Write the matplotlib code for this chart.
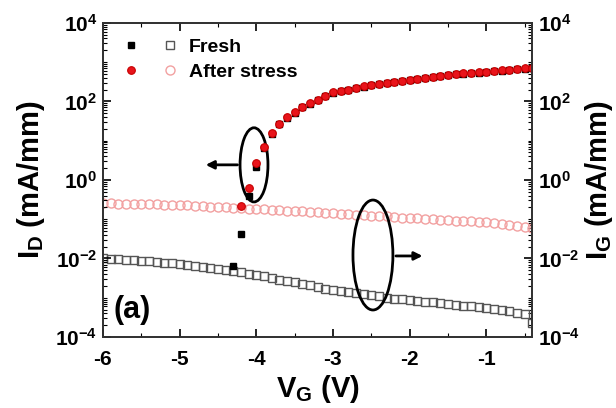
import numpy as np
import matplotlib
matplotlib.use("Agg")
import matplotlib.pyplot as plt
from matplotlib.patches import Ellipse
from matplotlib.legend_handler import HandlerTuple
from matplotlib.ticker import FuncFormatter, MultipleLocator, FixedLocator, NullFormatter

plt.rcParams['font.family'] = ['Liberation Sans', 'DejaVu Sans']
plt.rcParams['font.weight'] = 'bold'
plt.rcParams['mathtext.fontset'] = 'custom'
plt.rcParams['mathtext.rm'] = 'Liberation Sans:bold'
plt.rcParams['mathtext.bf'] = 'Liberation Sans:bold'
plt.rcParams['mathtext.it'] = 'Liberation Sans:bold'

# gate voltage sweeps (V)
vg_ig = np.linspace(-6.0, -0.4, 57)
vg_id_fresh = np.linspace(-4.3, -0.4, 40)
vg_id_stress = np.linspace(-4.2, -0.4, 39)

# drain current (mA/mm)
id_fresh = [0.0065, 0.042, 0.39, 2.1,
            6.5, 15, 26, 38, 52, 70, 88, 106, 135, 165,
            180, 195, 215, 235, 255, 270, 290, 310, 330, 350,
            370, 395, 420, 445, 470, 490, 510, 525, 540, 555,
            585, 610, 635, 660, 685, 705]
id_stress = [0.22, 0.63, 2.7,
             6.9, 16, 27, 40, 54, 72, 91, 110, 140, 170,
             185, 200, 220, 240, 260, 275, 295, 315, 335, 355,
             375, 400, 425, 450, 475, 495, 515, 530, 545, 560,
             590, 615, 640, 665, 690, 710]

# gate current (mA/mm)
ig_fresh = [0.0102, 0.0099, 0.0096, 0.0093, 0.0090, 0.0087, 0.0084, 0.0081, 0.0078, 0.0075,
            0.0072, 0.0068, 0.0064, 0.0060, 0.0056, 0.0053, 0.0050, 0.0047, 0.0044, 0.0041,
            0.0038, 0.0035, 0.0032, 0.0029, 0.0027, 0.0025, 0.0023, 0.0021, 0.0019, 0.0017,
            0.0016, 0.00150, 0.00140, 0.00131, 0.00123, 0.00116, 0.00108, 0.00101, 0.00095, 0.00091,
            0.00087, 0.00083, 0.00079, 0.00076, 0.00072, 0.00069, 0.00066, 0.00063, 0.00060, 0.00057,
            0.00055, 0.00051, 0.00048, 0.00045, 0.00042, 0.00038, 0.00023]
ig_stress = [0.257, 0.254, 0.251, 0.249, 0.246, 0.243, 0.241, 0.238, 0.235, 0.232,
             0.229, 0.224, 0.219, 0.215, 0.210, 0.205, 0.200, 0.196, 0.192, 0.187,
             0.182, 0.178, 0.174, 0.170, 0.166, 0.162, 0.158, 0.154, 0.150, 0.145,
             0.141, 0.137, 0.134, 0.131, 0.127, 0.124, 0.121, 0.118, 0.115, 0.110,
             0.107, 0.105, 0.102, 0.100, 0.097, 0.095, 0.092, 0.090, 0.088, 0.085,
             0.083, 0.079, 0.075, 0.071, 0.067, 0.063, 0.059]

y_major = [1e-4, 1e-2, 1e0, 1e2, 1e4]
y_minor = [m * 10.0 ** e for e in range(-4, 4) for m in range(1, 10) if 10.0 ** e * m not in y_major]
x_ticks = [-6, -5, -4, -3, -2, -1]

fig = plt.figure(figsize=(6.16, 4.08), dpi=100)
ax = fig.add_axes([0.167, 0.174, 0.697, 0.770])
ax2 = ax.twinx()

# gate current on the right axis
h_ig_f, = ax2.plot(vg_ig, ig_fresh, 's', ms=6, mfc='none', mec='#555555', mew=1.0)
h_ig_s, = ax2.plot(vg_ig, ig_stress, 'o', ms=6.5, mfc='none', mec='#f2a0a0', mew=1.0)

# drain current on the left axis
h_id_f, = ax.plot(vg_id_fresh, id_fresh, 's', ms=5, color='black')
h_id_s, = ax.plot(vg_id_stress, id_stress, 'o', ms=5.5, mfc='#e8141b', mec='#c80000', mew=0.8)

ax.set_zorder(ax2.get_zorder() + 1)
ax.patch.set_visible(False)

fmt = FuncFormatter(lambda v, p: r'$\mathbf{10^{%d}}$' % round(np.log10(v)))
for a in (ax, ax2):
    a.set_yscale('log')
    a.set_ylim(1e-4, 1e4)
    a.yaxis.set_major_locator(FixedLocator(y_major))
    a.yaxis.set_minor_locator(FixedLocator(y_minor))
    a.yaxis.set_major_formatter(fmt)
    a.yaxis.set_minor_formatter(NullFormatter())
    a.tick_params(which='major', direction='in', length=6, width=1.2, labelsize=15, pad=4)
    a.tick_params(which='minor', direction='in', length=3, width=0.8)
    for s in a.spines.values():
        s.set_linewidth(1.3)
        s.set_color('#333333')

ax.set_xlim(-6, -0.4)
ax.set_xticks(x_ticks)
ax.set_xticklabels([str(v) for v in x_ticks])
ax.xaxis.set_minor_locator(MultipleLocator(0.5))
ax.tick_params(axis='x', which='both', top=True)
ax.tick_params(axis='x', which='major', pad=9)

ax.set_xlabel(r'V$_\mathbf{G}$ (V)', fontsize=21, fontweight='bold', labelpad=3)
ax.set_ylabel(r'I$_\mathbf{D}$ (mA/mm)', fontsize=21, fontweight='bold', labelpad=6)
ax2.set_ylabel(r'I$_\mathbf{G}$ (mA/mm)', fontsize=21, fontweight='bold', labelpad=2)

ax.text(0.025, 0.06, '(a)', transform=ax.transAxes, fontsize=22, fontweight='bold')

ax.legend([(h_id_f, h_ig_f), (h_id_s, h_ig_s)], ['Fresh', 'After stress'],
          handler_map={tuple: HandlerTuple(ndivide=None, pad=1.2)},
          loc='upper left', bbox_to_anchor=(0.015, 0.995), frameon=False, fontsize=14,
          handlelength=2.8, handletextpad=0.6, labelspacing=0.4, borderaxespad=0.3)

ax.add_patch(Ellipse((0.352, 0.548), 0.065, 0.236, transform=ax.transAxes,
                     fill=False, lw=2, ec='black'))
ax.add_patch(Ellipse((0.629, 0.261), 0.093, 0.35, transform=ax.transAxes,
                     fill=False, lw=2, ec='black'))
ax.annotate('', xy=(0.233, 0.548), xytext=(0.320, 0.548), xycoords='axes fraction',
            arrowprops=dict(arrowstyle='-|>', lw=2, color='black', mutation_scale=12))
ax.annotate('', xy=(0.751, 0.258), xytext=(0.676, 0.258), xycoords='axes fraction',
            arrowprops=dict(arrowstyle='-|>', lw=2, color='black', mutation_scale=12))

fig.savefig('out.png', dpi=100)
